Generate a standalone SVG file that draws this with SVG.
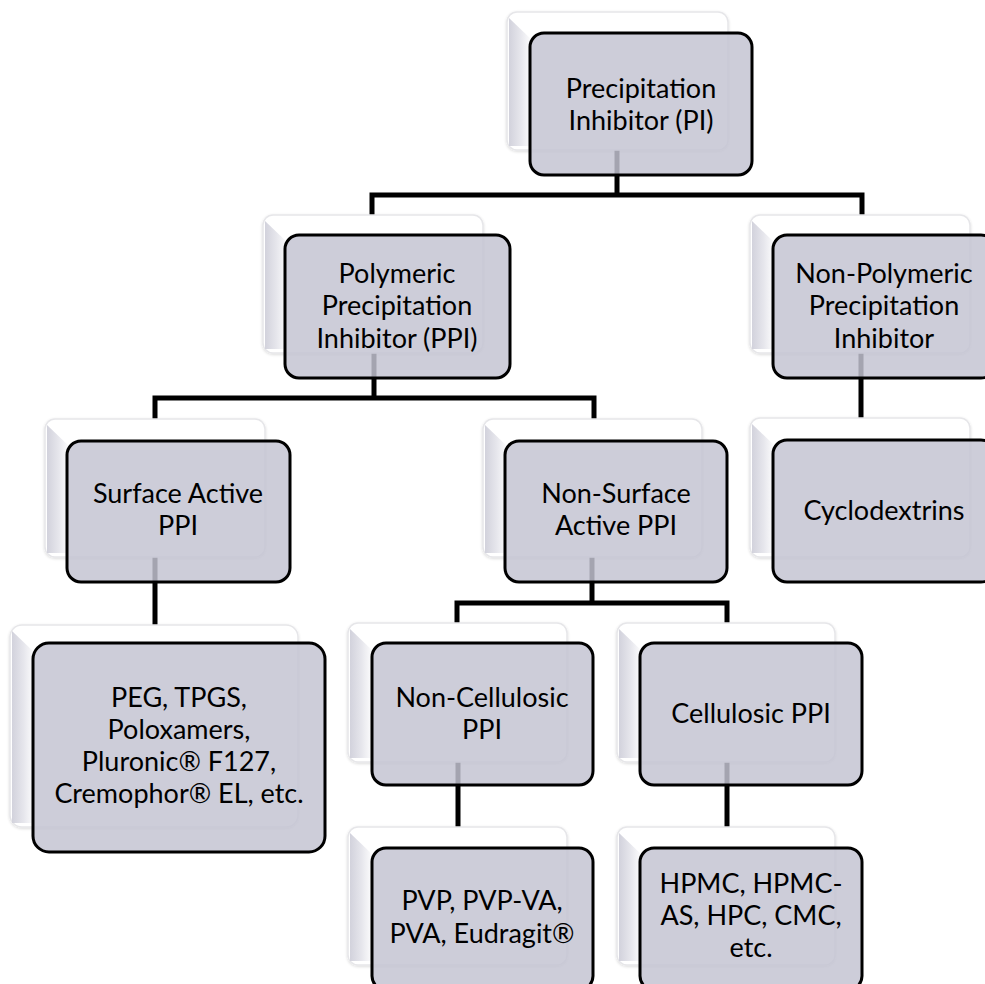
<svg xmlns="http://www.w3.org/2000/svg" width="985" height="984" viewBox="0 0 985 984">
<defs>
<linearGradient id="bevel" x1="0" y1="0" x2="1" y2="0">
<stop offset="0" stop-color="#d2d2dc"/>
<stop offset="0.5" stop-color="#e6e6ec"/>
<stop offset="1" stop-color="#ffffff"/>
</linearGradient>
<filter id="soft" x="-5%" y="-5%" width="110%" height="110%">
<feGaussianBlur in="SourceAlpha" stdDeviation="1.5"/>
<feOffset dx="0" dy="1"/>
<feComponentTransfer><feFuncA type="linear" slope="0.15"/></feComponentTransfer>
<feMerge><feMergeNode/><feMergeNode in="SourceGraphic"/></feMerge>
</filter>
</defs>
<style>
.back{fill:#ffffff;stroke:#e6e6e9;stroke-width:1.5;filter:url(#soft)}
.bev{fill:url(#bevel)}
.front{fill:#c4c4d2;fill-opacity:0.84;stroke:#000;stroke-width:3}
.conn{fill:none;stroke:#000;stroke-width:5;stroke-linejoin:miter}
text{font-family:Lato,"Open Sans","Liberation Sans",sans-serif;font-size:27px;fill:#000;text-anchor:middle}
</style>
<rect width="985" height="984" fill="#ffffff"/>
<g id="connectors">
<path class="conn" d="M617,100 V195"/>
<path class="conn" d="M372,230 V195 H862 V230"/>
<path class="conn" d="M374,300 V398"/>
<path class="conn" d="M155,430 V398 H594 V430"/>
<path class="conn" d="M861,300 V430"/>
<path class="conn" d="M155,510 V640"/>
<path class="conn" d="M592,510 V603"/>
<path class="conn" d="M457,640 V603 H727 V640"/>
<path class="conn" d="M458,714 V840"/>
<path class="conn" d="M727,714 V840"/>
</g>
<g id="n-pi">
<rect class="back" x="507" y="12" width="221" height="138" rx="10"/>
<path class="bev" d="M509,18 L532,40 V146 H509 Z"/>
<rect class="front" x="530" y="33" width="222" height="142" rx="14"/>
<text x="641" y="98">Precipitation</text>
<text x="641" y="130">Inhibitor (PI)</text>
</g>
<g id="n-ppi">
<rect class="back" x="263" y="215" width="220" height="138" rx="10"/>
<path class="bev" d="M265,221 L288,243 V349 H265 Z"/>
<rect class="front" x="285" y="235" width="225" height="143" rx="14"/>
<text x="397" y="283">Polymeric</text>
<text x="397" y="315">Precipitation</text>
<text x="397" y="348">Inhibitor (PPI)</text>
</g>
<g id="n-nppi">
<rect class="back" x="750" y="215" width="220" height="138" rx="10"/>
<path class="bev" d="M752,221 L775,243 V349 H752 Z"/>
<rect class="front" x="773" y="235" width="222" height="143" rx="14"/>
<text x="884" y="283">Non-Polymeric</text>
<text x="884" y="315">Precipitation</text>
<text x="884" y="348">Inhibitor</text>
</g>
<g id="n-sa">
<rect class="back" x="45" y="419" width="220" height="138" rx="10"/>
<path class="bev" d="M47,425 L70,447 V553 H47 Z"/>
<rect class="front" x="67" y="441" width="223" height="141" rx="14"/>
<text x="178" y="503">Surface Active</text>
<text x="178" y="535">PPI</text>
</g>
<g id="n-nsa">
<rect class="back" x="483" y="419" width="219" height="138" rx="10"/>
<path class="bev" d="M485,425 L508,447 V553 H485 Z"/>
<rect class="front" x="505" y="441" width="222" height="141" rx="14"/>
<text x="616" y="503">Non-Surface</text>
<text x="616" y="535">Active PPI</text>
</g>
<g id="n-cd">
<rect class="back" x="750" y="418" width="220" height="139" rx="10"/>
<path class="bev" d="M752,424 L775,446 V553 H752 Z"/>
<rect class="front" x="773" y="440" width="222" height="142" rx="14"/>
<text x="884" y="520">Cyclodextrins</text>
</g>
<g id="n-peg">
<rect class="back" x="10" y="625" width="288" height="202" rx="12"/>
<path class="bev" d="M12,631 L35,653 V823 H12 Z"/>
<rect class="front" x="33" y="643" width="292" height="209" rx="16"/>
<text x="179" y="707">PEG, TPGS,</text>
<text x="179" y="739">Poloxamers,</text>
<text x="179" y="771">Pluronic® F127,</text>
<text x="179" y="803">Cremophor® EL, etc.</text>
</g>
<g id="n-nc">
<rect class="back" x="348" y="623" width="219" height="139" rx="10"/>
<path class="bev" d="M350,629 L373,651 V758 H350 Z"/>
<rect class="front" x="372" y="643" width="221" height="142" rx="14"/>
<text x="482" y="707">Non-Cellulosic</text>
<text x="482" y="739">PPI</text>
</g>
<g id="n-cel">
<rect class="back" x="617" y="623" width="218" height="139" rx="10"/>
<path class="bev" d="M619,629 L642,651 V758 H619 Z"/>
<rect class="front" x="640" y="643" width="222" height="142" rx="14"/>
<text x="751" y="723">Cellulosic PPI</text>
</g>
<g id="n-pvp">
<rect class="back" x="348" y="827" width="219" height="138" rx="10"/>
<path class="bev" d="M350,833 L373,855 V961 H350 Z"/>
<rect class="front" x="372" y="848" width="221" height="142" rx="14"/>
<text x="482" y="910">PVP, PVP-VA,</text>
<text x="482" y="943">PVA, Eudragit®</text>
</g>
<g id="n-hpmc">
<rect class="back" x="617" y="827" width="218" height="138" rx="10"/>
<path class="bev" d="M619,833 L642,855 V961 H619 Z"/>
<rect class="front" x="640" y="848" width="222" height="142" rx="14"/>
<text x="751" y="893">HPMC, HPMC-</text>
<text x="751" y="925">AS, HPC, CMC,</text>
<text x="751" y="957">etc.</text>
</g>
</svg>
